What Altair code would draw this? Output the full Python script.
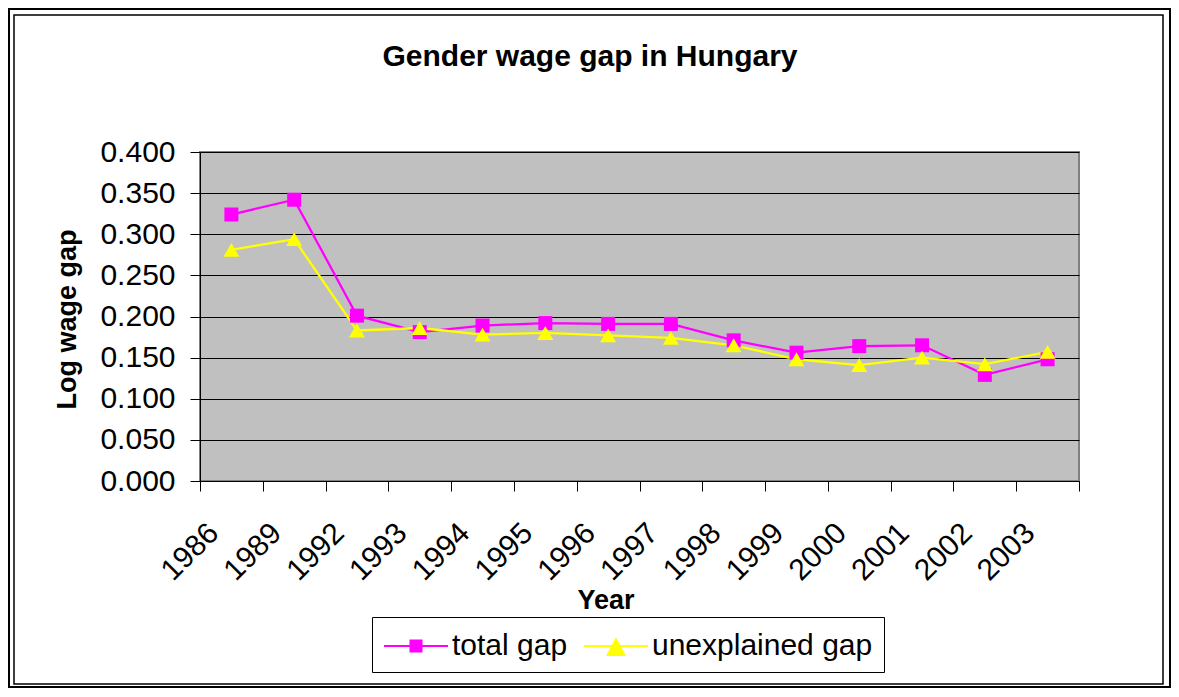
import altair as alt
import pandas as pd

years = ["1986", "1989", "1992", "1993", "1994", "1995", "1996",
         "1997", "1998", "1999", "2000", "2001", "2002", "2003"]
total_gap = [0.324, 0.342, 0.201, 0.181, 0.189, 0.192, 0.191,
             0.191, 0.171, 0.156, 0.164, 0.165, 0.129, 0.148]
unexplained_gap = [0.281, 0.294, 0.183, 0.186, 0.178, 0.180, 0.177,
                   0.174, 0.165, 0.148, 0.141, 0.150, 0.142, 0.157]
series_names = ["total gap", "unexplained gap"]
series_colors = ["#FF00FF", "#FFFF00"]
y_ticks = [0.0, 0.05, 0.1, 0.15, 0.2, 0.25, 0.3, 0.35, 0.4]

rows = []
for name, vals in zip(series_names, [total_gap, unexplained_gap]):
    for yr, v in zip(years, vals):
        rows.append({"Year": yr, "series": name, "gap": v})
df = pd.DataFrame(rows)

FONT = "Liberation Sans"

PATH_TOTAL = "M-1,0H2.765M0.558,-0.324H1.206V0.324H0.558Z"
PATH_UNEXP = "M-1,0H2.765M0.882,-0.394L1.372,0.53H0.392Z"
is_total = "datum.value === 'total gap'"

legend = alt.Legend(
    title=None, orient="none", legendX=172, legendY=465,
    direction="horizontal", columns=2,
    strokeColor="black", fillColor="white", padding=11,
    labelFont=FONT, labelFontSize=30, labelColor="black", labelLimit=400,
    symbolSize=1156, labelOffset=33, columnPadding=12, symbolStrokeWidth=2,
    symbolOpacity=1,
    symbolType=alt.ExprRef(expr=f"{is_total} ? '{PATH_TOTAL}' : '{PATH_UNEXP}'"),
    symbolFillColor=alt.ExprRef(expr=f"{is_total} ? '{series_colors[0]}' : '{series_colors[1]}'"),
    symbolStrokeColor=alt.ExprRef(expr=f"{is_total} ? '{series_colors[0]}' : '{series_colors[1]}'"),
)

x_enc = alt.X(
    "Year:N", sort=years,
    scale=alt.Scale(type="band", paddingInner=0, paddingOuter=0),
    axis=alt.Axis(
        title="Year", labelAngle=-45, labelAlign="right", labelBaseline="middle",
        labelOffset=-18, labelPadding=37, tickSize=10, tickBand="extent",
        labelFont=FONT, labelFontSize=30, labelColor="black", labelOverlap=False,
        titleFont=FONT, titleFontSize=27, titleFontWeight="bold", titleColor="black",
        titleX=405.5, titleY=127.3, titleAlign="center", titleBaseline="alphabetic",
        domainColor="black", tickColor="black", grid=False,
    ),
)
y_enc = alt.Y(
    "gap:Q",
    scale=alt.Scale(domain=[0, 0.4], nice=False, zero=True),
    axis=alt.Axis(
        title="Log wage gap", values=y_ticks, format=".3f",
        tickSize=10, labelPadding=15,
        labelFont=FONT, labelFontSize=30, labelColor="black",
        titleFont=FONT, titleFontSize=27, titleFontWeight="bold", titleColor="black",
        titleX=-125, titleY=167, titleAlign="center", titleBaseline="alphabetic",
        grid=True, gridColor="black", gridWidth=1, gridOpacity=1,
        domainColor="black", tickColor="black",
    ),
)
color_enc = alt.Color("series:N", scale=alt.Scale(domain=series_names, range=series_colors), legend=legend)

frame_data = alt.Data(values=[{"k": 1}])
outer = alt.Chart(frame_data).mark_rect(filled=False, stroke="black", strokeWidth=2).encode(
    x=alt.value(-191), x2=alt.value(970), y=alt.value(-143), y2=alt.value(535))
inner = alt.Chart(frame_data).mark_rect(filled=False, stroke="black", strokeWidth=1.5).encode(
    x=alt.value(-186), x2=alt.value(963), y=alt.value(-137), y2=alt.value(532))

lines = alt.Chart(df).mark_line(strokeWidth=2.3).encode(x=x_enc, y=y_enc, color=color_enc)
pts_total = alt.Chart(df).transform_filter(alt.datum.series == "total gap").mark_point(
    filled=True, opacity=1, shape="square", size=196).encode(x=x_enc, y=y_enc, color=color_enc)
pts_unexp = alt.Chart(df).transform_filter(alt.datum.series == "unexplained gap").mark_point(
    filled=True, opacity=1, shape="triangle-up", size=256).encode(x=x_enc, y=y_enc, color=color_enc)

chart = alt.layer(outer, inner, lines, pts_total, pts_unexp).properties(
    width=879, height=329,
    title=alt.TitleParams(
        text="Gender wage gap in Hungary", font=FONT, fontSize=30, fontWeight="bold",
        color="black", anchor="middle", frame="group", dx=-49.5, dy=88.4, offset=0,
        baseline="alphabetic"),
    autosize=alt.AutoSizeParams(type="none"),
    padding={"left": 192, "top": 144, "right": 92, "bottom": 207},
).configure(background="white").configure_view(fill="#C0C0C0", stroke="#808080", strokeWidth=2)

chart.save("out.html", embed_options={"renderer": "svg", "actions": False})
